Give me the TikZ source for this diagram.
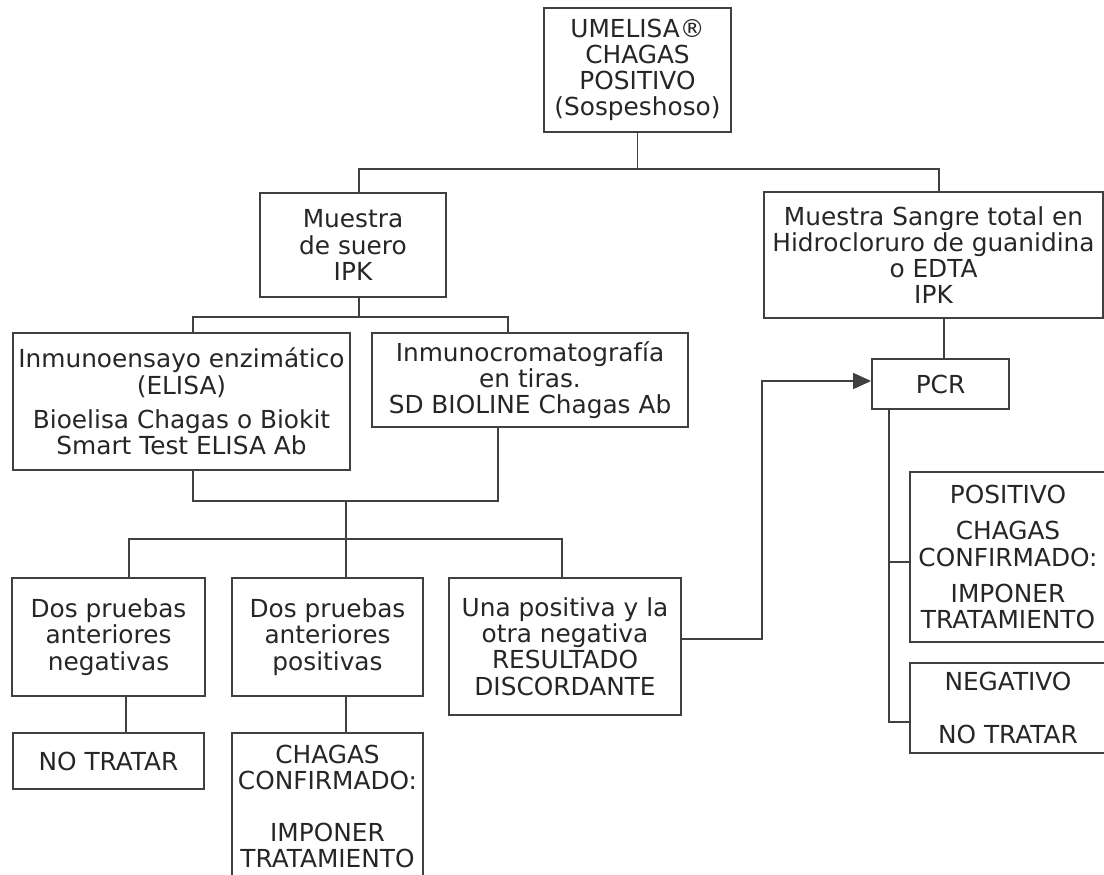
\documentclass[tikz,border=0pt]{standalone}
\usepackage{fontspec}
\setmainfont{DejaVu Sans}
\usetikzlibrary{arrows.meta}

\tikzset{
  caja/.style={draw=black!75, line width=0.9pt, align=center, inner sep=0pt,
    text=black!85, font=\fontsize{12.4}{13.1}\selectfont},
  linea/.style={draw=black!75, line width=0.9pt},
}

\begin{document}
\begin{tikzpicture}[x=0.5pt, y=-0.5pt]
  \useasboundingbox (0,0) rectangle (1104,874);

  % Caja inicial
  \node[caja, minimum width=93.5pt, minimum height=62pt] (umelisa) at (637.5,70) {UMELISA®\\CHAGAS\\POSITIVO\\(Sospeshoso)};

  % Muestras
  \node[caja, minimum width=93pt, minimum height=52pt] (suero) at (353,245) {Muestra\\de suero\\IPK};
  \node[caja, minimum width=169.5pt, minimum height=63pt] (sangre) at (933.5,255) {Muestra Sangre total en\\Hidrocloruro de guanidina\\o EDTA\\IPK};

  % Pruebas
  \node[caja, minimum width=168.5pt, minimum height=68.5pt] (elisa) at (181.5,401.5) {Inmunoensayo enzimático\\(ELISA)\\[4pt]Bioelisa Chagas o Biokit\\Smart Test ELISA Ab};
  \node[caja, minimum width=158pt, minimum height=47pt] (tiras) at (530,380) {Inmunocromatografía\\en tiras.\\SD BIOLINE Chagas Ab};

  % Resultados
  \node[caja, minimum width=96.5pt, minimum height=59pt] (negativas) at (108.5,637) {Dos pruebas\\anteriores\\negativas};
  \node[caja, minimum width=95.5pt, minimum height=59pt] (positivas) at (327.5,637) {Dos pruebas\\anteriores\\positivas};
  \node[caja, minimum width=116pt, minimum height=68.5pt] (discordante) at (565,646.5) {Una positiva y la\\otra negativa\\RESULTADO\\DISCORDANTE};
  \node[caja, minimum width=95.5pt, minimum height=28pt] (notratar) at (108.5,761) {NO TRATAR};
  \node[caja, minimum width=95.5pt, minimum height=73.5pt] (confirmado) at (327.5,806.5) {CHAGAS\\CONFIRMADO:\\[13pt]IMPONER\\TRATAMIENTO};

  % PCR
  \node[caja, minimum width=68.5pt, minimum height=25pt] (pcr) at (940.5,384) {PCR};
  \node[caja, minimum width=98pt, minimum height=85pt] (pcrpos) at (1008,557) {POSITIVO\\[5pt]CHAGAS\\CONFIRMADO:\\[5pt]IMPONER\\TRATAMIENTO};
  \node[caja, minimum width=98pt, minimum height=45pt] (pcrneg) at (1008,708) {NEGATIVO\\[13pt]NO TRATAR};

  % Conectores
  \coordinate (j1) at (637.5,169);
  \draw[linea] (umelisa.south) -- (j1);
  \draw[linea] ([xshift=3pt]suero.north) |- (j1) -| ([xshift=2.75pt]sangre.north);

  \coordinate (j2) at (359,317);
  \draw[linea] ([xshift=3pt]suero.south) -- (j2);
  \draw[linea] ([xshift=5.75pt]elisa.north) |- (j2) -| ([xshift=-11pt]tiras.north);

  \coordinate (j3) at (346,501);
  \coordinate (j4) at (346,539);
  \draw[linea] ([xshift=5.75pt]elisa.south) |- (j3) -| ([xshift=-16pt]tiras.south);
  \draw[linea] (j3) -- (j4);
  \draw[linea] ([xshift=10.25pt]negativas.north) |- (j4) -| ([xshift=-1.5pt]discordante.north);
  \draw[linea] ([xshift=9.25pt]positivas.north) -- (j4);

  \draw[linea] ([xshift=8.75pt]negativas.south) -- ([xshift=8.75pt]notratar.north);
  \draw[linea] ([xshift=9.25pt]positivas.south) -- ([xshift=9.25pt]confirmado.north);

  \draw[linea] ([xshift=5.25pt]sangre.south) -- ([xshift=1.75pt]pcr.north);
  \coordinate (codo) at (762,639);
  \draw[linea, -{Triangle[length=9pt,width=8pt]}] ([yshift=3.75pt]discordante.east) -- (codo) |- ([yshift=1.5pt]pcr.west);

  \draw[linea] ([xshift=-25.75pt]pcr.south) |- ([yshift=-2.5pt]pcrpos.west);
  \draw[linea] ([xshift=-25.75pt]pcr.south) |- ([yshift=-7pt]pcrneg.west);
\end{tikzpicture}
\end{document}
